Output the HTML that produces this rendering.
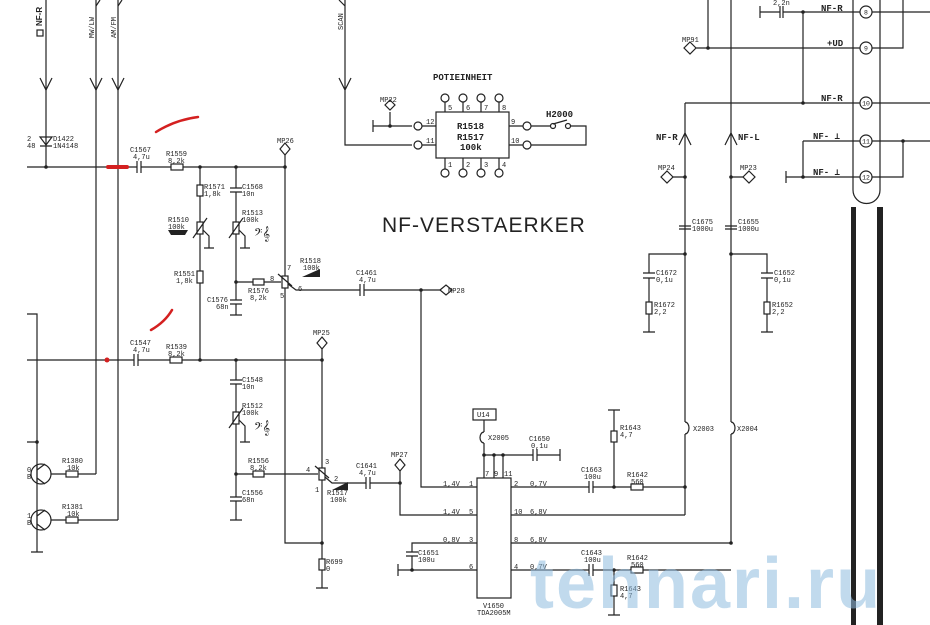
<!DOCTYPE html>
<html><head><meta charset="utf-8"><style>
html,body{margin:0;padding:0;background:#fff;}
svg{display:block}
text{font-family:"Liberation Mono",monospace;fill:#222;}
.s{font-size:7px}
.m{font-family:"Liberation Sans",sans-serif;font-weight:bold;font-size:9px}
</style></head><body>
<svg width="930" height="625" viewBox="0 0 930 625" xmlns="http://www.w3.org/2000/svg">
<g stroke="#222" stroke-width="1.2" fill="none">
<path d="M46 0 V167"/><path d="M40 78 L46 90 L52 78"/>
<path d="M96 0 V474"/><path d="M90 78 L96 90 L102 78"/><path d="M100 0 L96 6"/>
<path d="M118 0 V520"/><path d="M112 78 L118 90 L124 78"/><path d="M122 0 L118 6"/>
<rect x="37" y="30" width="6" height="6"/>
<path d="M40 137 h12 l-6 8 z M40 146 h12"/>
<path d="M27 167 H137 M141 167 H171 M183 167 H285"/>
<path d="M137 161 v12 M141 161 v12"/>
<rect x="171" y="164" width="12" height="6"/>
<path d="M200 167 V185 M200 196 V222 M200 234 V271 M200 283 V360"/>
<rect x="197" y="185" width="6" height="11"/>
<rect x="197" y="222" width="6" height="12"/>
<path d="M193 238 L207 218 M203 230 L209 236 V248 M204 248 h10"/>
<rect x="197" y="271" width="6" height="12"/>
<path d="M236 167 V188 M230 188 h12 M230 192 h12 M236 192 V222 M236 234 V300 M230 300 h12 M230 304 h12 M236 304 V315 M230 315 h12"/>
<rect x="233" y="222" width="6" height="12"/>
<path d="M229 238 L243 218 M239 230 L245 236 V248 M240 248 h10"/>
<path d="M236 282 H253 M264 282 H281"/><rect x="253" y="279" width="11" height="6"/>
<path d="M285 155 V276 M285 288 V543 H322"/>
<rect x="282" y="276" width="6" height="12"/>
<path d="M278 274 L292 286 M288 284 L296 290 H360 M360 284 v12 M364 284 v12 M364 290 H440 M421 290 V487 H477"/>
<path d="M285 143 l5 6 l-5 6 l-5 -6 z"/>
<path d="M440 290 l6 -5 l6 5 l-6 5 z"/>
<path d="M27 360 H134 M138 360 H170 M182 360 H322"/>
<path d="M134 354 v12 M138 354 v12"/><rect x="170" y="357" width="12" height="6"/>
<path d="M236 360 V380 M230 380 h12 M230 384 h12 M236 384 V412 M236 424 V497 M230 497 h12 M230 501 h12 M236 501 V520 M230 520 h12"/>
<rect x="233" y="412" width="6" height="12"/>
<path d="M229 428 L243 408 M239 420 L245 426 V442 M240 442 h10"/>
<path d="M236 474 H253 M264 474 H318"/><rect x="253" y="471" width="11" height="6"/>
<path d="M322 348 V468 M322 480 V559 M322 570 V588 M316 588 h12"/>
<rect x="319" y="468" width="6" height="12"/>
<rect x="319" y="559" width="6" height="11"/>
<path d="M322 337 l5 6 l-5 6 l-5 -6 z"/>
<path d="M315 466 L329 478 M325 477 L332 483 H366 M366 477 v12 M370 477 v12 M370 483 H400 M400 470 V515 H477"/>
<path d="M400 459 l5 6 l-5 6 l-5 -6 z"/>
<path d="M27 314 H37 V552 M31 552 h12 M27 442 H37"/>
<circle cx="41" cy="474" r="10"/><circle cx="41" cy="520" r="10"/>
<path d="M37 466 V482 M37 470 l8 -6 M37 478 l8 6 M51 474 H66 M78 474 H96"/>
<path d="M37 512 V528 M37 516 l8 -6 M37 524 l8 6 M51 520 H66 M78 520 H118"/>
<rect x="66" y="471" width="12" height="6"/><rect x="66" y="517" width="12" height="6"/>
<path d="M345 0 V145 H412 M339 78 L345 90 L351 78 M339 0 L345 6"/>
<path d="M373 120 v12 M373 126 H412 M390 126 V112"/>
<path d="M390 100 l5 5 l-5 5 l-5 -5 z"/>
<rect x="436" y="112" width="73" height="46"/>
<circle cx="418" cy="126" r="4"/><circle cx="418" cy="145" r="4"/>
<path d="M422 126 H436 M422 145 H436 M509 126 H523 M509 145 H523"/>
<circle cx="527" cy="126" r="4"/><circle cx="527" cy="145" r="4"/>
<path d="M531 126 H551 M570 126 H586 V145 H531 M553 124 L567 120"/>
<circle cx="553" cy="126" r="2.5"/><circle cx="568" cy="126" r="2.5"/>
<path d="M445 102 V112 M463 102 V112 M481 102 V112 M499 102 V112 M445 158 V169 M463 158 V169 M481 158 V169 M499 158 V169"/>
<circle cx="445" cy="98" r="4"/><circle cx="463" cy="98" r="4"/><circle cx="481" cy="98" r="4"/><circle cx="499" cy="98" r="4"/>
<circle cx="445" cy="173" r="4"/><circle cx="463" cy="173" r="4"/><circle cx="481" cy="173" r="4"/><circle cx="499" cy="173" r="4"/>
<rect x="477" y="478" width="34" height="120"/>
<rect x="473" y="409" width="23" height="11"/>
<path d="M484 420 V432 M484 443 V478 M494 455 V478 M503 455 V478 M484 455 H533 M533 449 v12 M537 449 v12 M537 455 H560 M560 449 v12"/>
<path d="M484 432 a4 5.5 0 0 0 0 11"/>
<path d="M398 564 v12 M398 570 H477 M412 570 V556 M406 556 h12 M406 552 h12 M412 552 V543 H477"/>
<path d="M511 487 H589 M589 481 v12 M593 481 v12 M593 487 H631 M643 487 H685"/>
<rect x="631" y="484" width="12" height="6"/>
<path d="M614 487 V442 M614 431 V410 M608 410 h12"/><rect x="611" y="431" width="6" height="11"/>
<path d="M511 515 H685 M511 543 H731 M511 570 H589 M589 564 v12 M593 564 v12 M593 570 H631 M643 570 H731"/>
<rect x="631" y="567" width="12" height="6"/>
<path d="M614 570 V585 M614 596 V615 M608 615 h12"/><rect x="611" y="585" width="6" height="11"/>
<path d="M685 103 V422 M685 434 V515"/><path d="M685 422 a4 6 0 0 1 0 12"/>
<path d="M731 0 V422 M731 434 V543"/><path d="M731 422 a4 6 0 0 1 0 12"/>
<path d="M679 145 L685 133 L691 145 M725 145 L731 133 L737 145"/>
<path d="M685 177 H673 M731 177 H743"/>
<path d="M667 171 l6 6 l-6 6 l-6 -6 z M749 171 l6 6 l-6 6 l-6 -6 z"/>
<path d="M679 226 h12 M679 229 h12 M725 226 h12 M725 229 h12"/>
<path d="M685 254 H649 V273 M643 273 h12 M643 278 h12 M649 278 V302 M649 314 V332 M643 332 h12"/>
<rect x="646" y="302" width="6" height="12"/>
<path d="M731 254 H767 V273 M761 273 h12 M761 278 h12 M767 278 V302 M767 314 V332 M761 332 h12"/>
<rect x="764" y="302" width="6" height="12"/>
<path d="M708 0 V48 M696 48 H860 M690 42 l6 6 l-6 6 l-6 -6 z"/>
<path d="M760 6 v12 M760 12 H780 M780 6 v12 M783 6 v12 M783 12 H860"/>
<path d="M803 12 V103 M685 103 H860 M803 141 H860 M803 141 V177 M786 171 v12 M786 177 H860"/>
<path d="M872 12 H930 M872 48 H903 V0 M872 103 H930 M872 141 H930 M903 141 V177 H872"/>
<path d="M853 0 V190 a13 13 0 0 0 27 0 V0"/>
<circle cx="866" cy="12" r="6"/><circle cx="866" cy="48" r="6"/><circle cx="866" cy="103" r="6"/><circle cx="866" cy="141" r="6"/><circle cx="866" cy="177" r="6"/>
</g>
<g fill="#222">
<rect x="851" y="207" width="5" height="418"/><rect x="877" y="207" width="6" height="418"/>
<circle cx="46" cy="167" r="1.8"/><circle cx="200" cy="167" r="1.8"/><circle cx="236" cy="167" r="1.8"/><circle cx="285" cy="167" r="1.8"/>
<circle cx="236" cy="282" r="1.8"/><circle cx="421" cy="290" r="1.8"/><circle cx="200" cy="360" r="1.8"/><circle cx="236" cy="360" r="1.8"/><circle cx="322" cy="360" r="1.8"/>
<circle cx="236" cy="474" r="1.8"/><circle cx="322" cy="543" r="1.8"/><circle cx="400" cy="483" r="1.8"/><circle cx="37" cy="442" r="1.8"/>
<circle cx="390" cy="126" r="1.8"/><circle cx="484" cy="455" r="1.8"/><circle cx="494" cy="455" r="1.8"/><circle cx="503" cy="455" r="1.8"/>
<circle cx="614" cy="487" r="1.8"/><circle cx="685" cy="487" r="1.8"/><circle cx="614" cy="570" r="1.8"/><circle cx="731" cy="543" r="1.8"/><circle cx="412" cy="570" r="1.8"/>
<circle cx="685" cy="177" r="1.8"/><circle cx="731" cy="177" r="1.8"/><circle cx="685" cy="254" r="1.8"/><circle cx="731" cy="254" r="1.8"/>
<circle cx="708" cy="48" r="1.8"/><circle cx="803" cy="12" r="1.8"/><circle cx="803" cy="103" r="1.8"/><circle cx="803" cy="177" r="1.8"/><circle cx="903" cy="141" r="1.8"/>
<path d="M302 277 L320 269 V277 Z"/><path d="M332 490 L348 482 V490 Z"/>
<path d="M168 230 h20 l-3 5 h-14 z"/>
</g>
<g stroke="#d42020" stroke-linecap="round" fill="none">
<path d="M156 132 Q175 120 198 117" stroke-width="2.5"/>
<path d="M108 167 H127" stroke-width="4"/>
<path d="M151 330 Q165 322 172 310" stroke-width="2.5"/>
</g>
<circle cx="107" cy="360" r="2.5" fill="#d42020"/>
<g class="s">
<text transform="translate(42,26) rotate(-90)" class="m" style="font-size:8px">NF-R</text>
<text transform="translate(94,38) rotate(-90)">MW/LW</text>
<text transform="translate(116,38) rotate(-90)">AM/FM</text>
<text transform="translate(343,30) rotate(-90)">SCAN</text>
<text x="27" y="141">2</text><text x="27" y="148">48</text>
<text x="53" y="141">D1422</text><text x="53" y="148">1N4148</text>
<text x="130" y="152">C1567</text><text x="133" y="159">4,7u</text>
<text x="166" y="156">R1559</text><text x="168" y="163">8,2k</text>
<text x="277" y="143">MP26</text>
<text x="204" y="189">R1571</text><text x="204" y="196">1,8k</text>
<text x="242" y="189">C1568</text><text x="242" y="196">10n</text>
<text x="168" y="222">R1510</text><text x="168" y="229">100k</text>
<text x="242" y="215">R1513</text><text x="242" y="222">100k</text>
<text x="174" y="276">R1551</text><text x="176" y="283">1,8k</text>
<text x="207" y="302">C1576</text><text x="216" y="309">68n</text>
<text x="248" y="293">R1576</text><text x="250" y="300">8,2k</text>
<text x="300" y="263">R1518</text><text x="303" y="270">100k</text>
<text x="287" y="270">7</text><text x="270" y="281">8</text><text x="280" y="298">5</text><text x="298" y="291">6</text>
<text x="356" y="275">C1461</text><text x="359" y="282">4,7u</text>
<text x="448" y="293">MP28</text>
<text x="130" y="345">C1547</text><text x="133" y="352">4,7u</text>
<text x="166" y="349">R1539</text><text x="168" y="356">8,2k</text>
<text x="313" y="335">MP25</text>
<text x="242" y="382">C1548</text><text x="242" y="389">10n</text>
<text x="242" y="408">R1512</text><text x="242" y="415">100k</text>
<text x="248" y="463">R1556</text><text x="250" y="470">8,2k</text>
<text x="242" y="495">C1556</text><text x="242" y="502">68n</text>
<text x="325" y="464">3</text><text x="306" y="472">4</text><text x="334" y="481">2</text><text x="315" y="492">1</text>
<text x="327" y="495">R1517</text><text x="330" y="502">100k</text>
<text x="356" y="468">C1641</text><text x="359" y="475">4,7u</text>
<text x="391" y="457">MP27</text>
<text x="326" y="564">R699</text><text x="326" y="571">0</text>
<text x="62" y="463">R1380</text><text x="67" y="470">10k</text>
<text x="62" y="509">R1381</text><text x="67" y="516">10k</text>
<text x="27" y="472">0</text><text x="27" y="479">B</text><text x="27" y="518">1</text><text x="27" y="525">B</text>
<text x="380" y="102">MP22</text>
<text x="426" y="124">12</text><text x="426" y="143">11</text><text x="511" y="124">9</text><text x="511" y="143">10</text>
<text x="448" y="110">5</text><text x="466" y="110">6</text><text x="484" y="110">7</text><text x="502" y="110">8</text>
<text x="448" y="167">1</text><text x="466" y="167">2</text><text x="484" y="167">3</text><text x="502" y="167">4</text>
<text x="477" y="417">U14</text>
<text x="488" y="440">X2005</text>
<text x="529" y="441">C1650</text><text x="531" y="448">0,1u</text>
<text x="485" y="476">7</text><text x="494" y="476">9</text><text x="504" y="476">11</text>
<text x="443" y="486">1,4V</text><text x="469" y="486">1</text>
<text x="443" y="514">1,4V</text><text x="469" y="514">5</text>
<text x="443" y="542">0,8V</text><text x="469" y="542">3</text>
<text x="469" y="569">6</text>
<text x="514" y="486">2</text><text x="530" y="486">0,7V</text>
<text x="514" y="514">10</text><text x="530" y="514">6,8V</text>
<text x="514" y="542">8</text><text x="530" y="542">6,8V</text>
<text x="514" y="569">4</text><text x="530" y="569">0,7V</text>
<text x="418" y="555">C1651</text><text x="418" y="562">100u</text>
<text x="483" y="608">V1650</text><text x="477" y="615">TDA2005M</text>
<text x="581" y="472">C1663</text><text x="584" y="479">100u</text>
<text x="620" y="430">R1643</text><text x="620" y="437">4,7</text>
<text x="627" y="477">R1642</text><text x="631" y="484">560</text>
<text x="581" y="555">C1643</text><text x="584" y="562">100u</text>
<text x="627" y="560">R1642</text><text x="631" y="567">560</text>
<text x="620" y="591">R1643</text><text x="620" y="598">4,7</text>
<text x="693" y="431">X2003</text><text x="737" y="431">X2004</text>
<text x="658" y="170">MP24</text><text x="740" y="170">MP23</text>
<text x="692" y="224">C1675</text><text x="692" y="231">1000u</text>
<text x="738" y="224">C1655</text><text x="738" y="231">1000u</text>
<text x="656" y="275">C1672</text><text x="656" y="282">0,1u</text>
<text x="774" y="275">C1652</text><text x="774" y="282">0,1u</text>
<text x="654" y="307">R1672</text><text x="654" y="314">2,2</text>
<text x="772" y="307">R1652</text><text x="772" y="314">2,2</text>
<text x="682" y="42">MP91</text>
<text x="773" y="5">2,2n</text>
</g>
<g class="m">
<text x="433" y="80">POTIEINHEIT</text>
<text x="457" y="129">R1518</text><text x="457" y="140">R1517</text><text x="460" y="150">100k</text>
<text x="546" y="117">H2000</text>
<text x="656" y="140">NF-R</text><text x="738" y="140">NF-L</text>
<text x="821" y="11">NF-R</text><text x="827" y="46">+UD</text><text x="821" y="101">NF-R</text>
<text x="813" y="139">NF- ⊥</text><text x="813" y="175">NF- ⊥</text>
</g>
<g font-family="Liberation Sans" font-size="6.5" fill="#222" text-anchor="middle">
<text x="866" y="14.5">8</text><text x="866" y="50.5">9</text><text x="866" y="105.5">10</text><text x="866" y="143.5">11</text><text x="866" y="179.5">12</text>
</g>
<text x="254" y="238" font-size="13" font-family="DejaVu Serif">𝄢𝄞</text>
<text x="254" y="432" font-size="13" font-family="DejaVu Serif">𝄢𝄞</text>
<text x="382" y="232" style="font-family:'Liberation Sans',sans-serif;font-size:21px;letter-spacing:1px">NF-VERSTAERKER</text>
<text x="530" y="608" style="font-family:'Liberation Sans',sans-serif;font-weight:bold;font-size:72px;fill:#8fbcdf;opacity:0.55;letter-spacing:2px">tehnari.ru</text>
</svg>
</body></html>
